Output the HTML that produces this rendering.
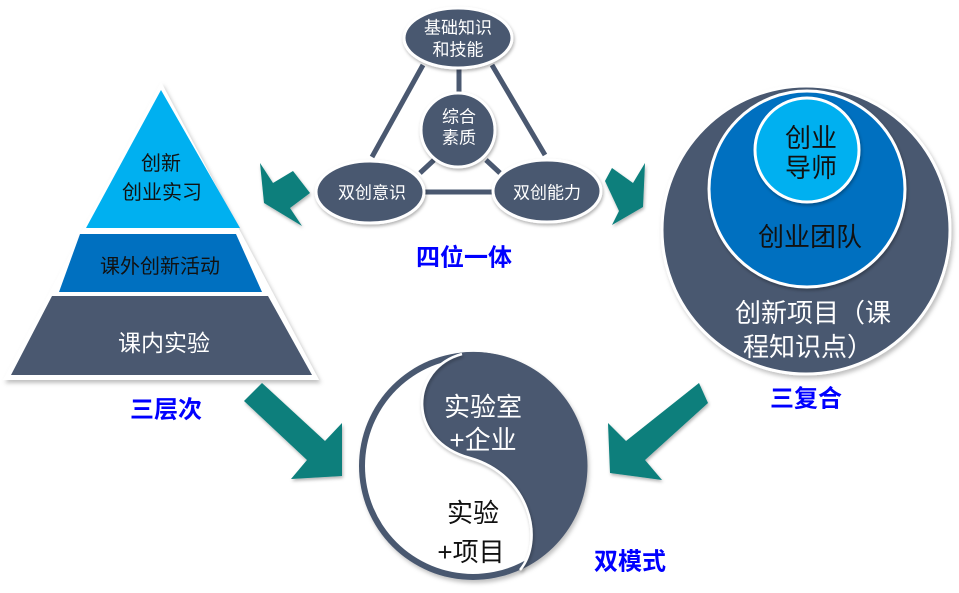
<!DOCTYPE html>
<html><head><meta charset="utf-8">
<style>
html,body{margin:0;padding:0;background:#fff;}
svg{display:block;}
text{font-family:"Liberation Sans","Noto Sans CJK SC",sans-serif;}
</style></head>
<body>
<svg width="959" height="593" viewBox="0 0 959 593" xmlns="http://www.w3.org/2000/svg">
<defs>
<filter id="sh" x="-20%" y="-20%" width="140%" height="140%">
<feDropShadow dx="2" dy="3" stdDeviation="2" flood-color="#000" flood-opacity="0.25"/>
</filter>
<filter id="sh2" x="-20%" y="-20%" width="140%" height="140%">
<feDropShadow dx="1" dy="2" stdDeviation="1.5" flood-color="#000" flood-opacity="0.3"/>
</filter>
</defs>

<!-- Pyramid -->
<polygon points="161,82 3,380 319,380" fill="#fff" filter="url(#sh)"/>
<polygon points="161,90 86,228 240,228" fill="#00b0f0"/>
<polygon points="80,234 236,234 262,292 59,292" fill="#0070c0"/>
<polygon points="52,296 268,296 312,375 11,375" fill="#4a5870"/>
<text x="161" y="164" font-size="20" fill="#111" text-anchor="middle" dominant-baseline="central">创新</text>
<text x="162" y="193" font-size="20" fill="#111" text-anchor="middle" dominant-baseline="central">创业实习</text>
<text x="160" y="267" font-size="20" fill="#111" text-anchor="middle" dominant-baseline="central">课外创新活动</text>
<text x="164" y="343" font-size="23" fill="#fff" text-anchor="middle" dominant-baseline="central">课内实验</text>
<text x="166" y="410" font-size="24" font-weight="bold" fill="#0000ff" text-anchor="middle" dominant-baseline="central">三层次</text>

<!-- Network lines -->
<g stroke="#4a5870" stroke-width="5" fill="none">
<line x1="423" y1="65" x2="372" y2="157"/>
<line x1="492" y1="65" x2="545" y2="155"/>
<line x1="459" y1="66" x2="459" y2="92"/>
<line x1="425" y1="192" x2="494" y2="192"/>
<line x1="420" y1="173" x2="434" y2="160"/>
<line x1="486" y1="160" x2="500" y2="173"/>
</g>
<!-- Network nodes -->
<g fill="#4a5870" stroke="#fff" stroke-width="3" filter="url(#sh2)">
<ellipse cx="458" cy="38" rx="54" ry="30"/>
<circle cx="458" cy="130" r="37"/>
<ellipse cx="370" cy="192" rx="54" ry="31"/>
<ellipse cx="547" cy="191" rx="54" ry="31"/>
</g>
<g font-size="17" fill="#fff" text-anchor="middle" dominant-baseline="central">
<text x="458" y="28">基础知识</text>
<text x="458" y="50">和技能</text>
<text x="459" y="117">综合</text>
<text x="459" y="138">素质</text>
<text x="372" y="193">双创意识</text>
<text x="547" y="193">双创能力</text>
</g>
<text x="464" y="258" font-size="24" font-weight="bold" fill="#0000ff" text-anchor="middle" dominant-baseline="central">四位一体</text>

<!-- Teal arrows -->
<g fill="#087f7c" filter="url(#sh2)">
<polygon points="260,163 264,203 302,226 290,208 310,193 293,171 273,183"/>
<polygon points="612,168 633,183 645,163 643,207 612,225 619,211 605,181"/>
<polygon points="262,383 244,401 307,460 291,479 342,476 342,423 325,441"/>
<polygon points="699,383 708,403 645,460 662,480 610,473 608,423 626,441"/>
</g>

<!-- Right concentric circles -->
<circle cx="806" cy="230" r="144" fill="#4a5870" stroke="#fff" stroke-width="3" filter="url(#sh)"/>
<circle cx="807" cy="189" r="98" fill="#0070c0" stroke="#fff" stroke-width="3" filter="url(#sh2)"/>
<circle cx="807" cy="150" r="52" fill="#00b0f0" stroke="#fff" stroke-width="3" filter="url(#sh2)"/>
<g text-anchor="middle" dominant-baseline="central">
<text x="811" y="138" font-size="26" fill="#111">创业</text>
<text x="811" y="168" font-size="26" fill="#111">导师</text>
<text x="810" y="237" font-size="26" fill="#111">创业团队</text>
<text x="813" y="313" font-size="26" fill="#fff">创新项目（课</text>
<text x="808" y="347" font-size="26" fill="#fff">程知识点）</text>
</g>
<text x="806" y="399" font-size="24" font-weight="bold" fill="#0000ff" text-anchor="middle" dominant-baseline="central">三复合</text>

<!-- Yin-yang -->
<circle cx="473" cy="466" r="114" fill="#4a5870" filter="url(#sh)"/>
<circle cx="473" cy="466" r="108" fill="#fff"/>
<path d="M 462 352.5 C 410 368, 405 440, 470 458 C 530 475, 545 540, 520 570 A 114 114 0 0 0 462 352.5 Z" fill="#4a5870"/>
<path d="M 462 354 C 410 368, 405 440, 470 458 C 530 475, 545 540, 520 570" fill="none" stroke="#fff" stroke-width="2.5" filter="url(#sh2)"/>
<g text-anchor="middle" dominant-baseline="central" font-size="26">
<text x="483" y="407" fill="#fff">实验室</text>
<text x="483" y="440" fill="#fff">+企业</text>
<text x="473" y="513" fill="#111">实验</text>
<text x="471" y="552" fill="#111">+项目</text>
</g>
<text x="630" y="562" font-size="24" font-weight="bold" fill="#0000ff" text-anchor="middle" dominant-baseline="central">双模式</text>
</svg>
</body></html>
